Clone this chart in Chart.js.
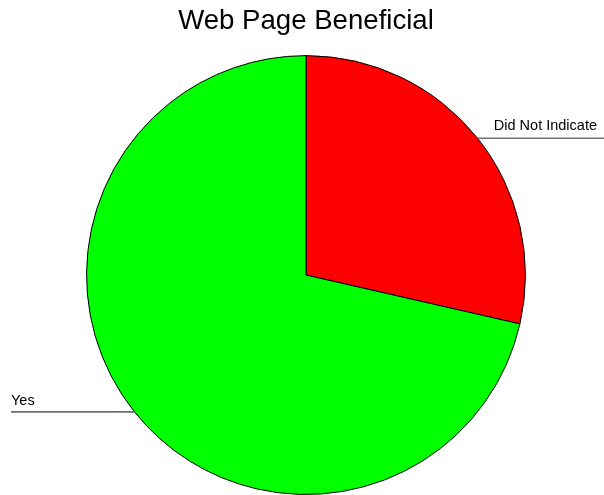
<!DOCTYPE html>
<html>
<head>
<meta charset="utf-8">
<script src="https://cdn.jsdelivr.net/npm/chart.js@4/dist/chart.umd.min.js"></script>
<style>
html,body{margin:0;padding:0;background:#fff;}
#wrap{width:604px;height:495px;position:relative;}
</style>
</head>
<body>
<div id="wrap"><canvas id="c" width="604" height="495"></canvas></div>
<script>
const categories = ["Did Not Indicate", "Yes"];
const values = [2, 5];
const colors = ["#ff0000", "#00ff00"];
const chartTitle = "Web Page Beneficial";

const leaderLabels = {
  id: 'leaderLabels',
  afterDatasetsDraw(chart) {
    const ctx = chart.ctx;
    const meta = chart.getDatasetMeta(0);
    ctx.save();
    ctx.font = '14.5px "Liberation Sans", Arial, sans-serif';
    ctx.fillStyle = '#000';
    ctx.strokeStyle = '#6e6e6e';
    ctx.lineWidth = 1.6;
    meta.data.forEach((arc, i) => {
      const mid = (arc.startAngle + arc.endAngle) / 2;
      const ex = arc.x + Math.cos(mid) * arc.outerRadius;
      const ey = arc.y + Math.sin(mid) * arc.outerRadius;
      ctx.beginPath();
      if (Math.cos(mid) >= 0) {
        ctx.moveTo(ex, ey);
        ctx.lineTo(chart.width, ey);
        ctx.stroke();
        ctx.textAlign = 'right';
        ctx.textBaseline = 'alphabetic';
        ctx.fillText(categories[i], chart.width - 7, ey - 8);
      } else {
        ctx.moveTo(11, ey);
        ctx.lineTo(ex, ey);
        ctx.stroke();
        ctx.textAlign = 'left';
        ctx.textBaseline = 'alphabetic';
        ctx.fillText(categories[i], 11, ey - 7);
      }
    });
    ctx.restore();
  }
};

new Chart(document.getElementById('c'), {
  type: 'pie',
  data: {
    labels: categories,
    datasets: [{
      data: values,
      backgroundColor: colors,
      borderColor: '#000',
      borderWidth: 1,
      hoverOffset: 0
    }]
  },
  options: {
    responsive: false,
    animation: false,
    devicePixelRatio: 1,
    layout: { padding: { left: 8, right: 0, top: 0, bottom: 0 } },
    plugins: {
      legend: { display: false },
      tooltip: { enabled: false },
      title: {
        display: true,
        text: chartTitle,
        color: '#000',
        font: { family: '"Liberation Sans", Arial, sans-serif', size: 27.6, weight: 'normal' },
        padding: { top: 5, bottom: 17 }
      }
    }
  },
  plugins: [leaderLabels]
});
</script>
</body>
</html>
